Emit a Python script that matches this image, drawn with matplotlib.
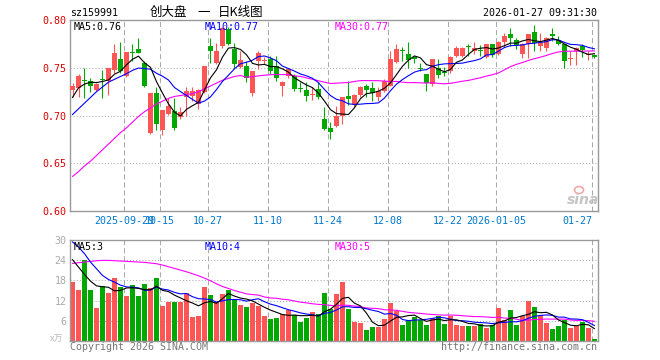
import numpy as np
import pandas as pd
import matplotlib
matplotlib.use("Agg")
import matplotlib.pyplot as plt
from matplotlib.patches import Ellipse

# ---------------- data ----------------
opens = [0.7267,0.7288,0.7365,0.7358,0.7267,0.7374,0.7358,0.7476,0.7590,0.7417,
 0.7665,0.7694,0.7556,0.6816,0.7233,0.6844,0.7017,0.7045,0.6983,0.7198,
 0.7208,0.7122,0.7243,0.7729,0.7556,0.7729,0.7913,0.7701,0.7510,0.7521,
 0.7233,0.7573,0.7570,0.7590,0.7521,0.7312,0.7417,0.7417,0.7280,0.7267,
 0.7212,0.7278,0.6965,0.6868,0.6885,0.6990,0.7208,0.7115,0.7219,0.7306,
 0.7285,0.7198,0.7260,0.7312,0.7566,0.7680,0.7649,0.7610,0.7495,0.7441,
 0.7330,0.7503,0.7455,0.7469,0.7625,0.7625,0.7722,0.7677,0.7680,0.7615,
 0.7747,0.7642,0.7774,0.7858,0.7788,0.7642,0.7753,0.7878,0.7729,0.7705,
 0.7845,0.7788,0.7747,0.7590,0.7677,0.7729,0.7634,0.7632]
highs = [0.7337,0.7440,0.7497,0.7399,0.7337,0.7476,0.7500,0.7753,0.7774,0.7670,
 0.7747,0.7816,0.7573,0.7240,0.7295,0.7063,0.7184,0.7184,0.7094,0.7295,
 0.7295,0.7275,0.7525,0.7809,0.7764,0.7927,0.7927,0.7764,0.7677,0.7573,
 0.7472,0.7677,0.7615,0.7625,0.7625,0.7358,0.7503,0.7434,0.7347,0.7347,
 0.7295,0.7347,0.7087,0.6930,0.7104,0.7191,0.7365,0.7226,0.7312,0.7330,
 0.7347,0.7295,0.7382,0.7677,0.7747,0.7719,0.7774,0.7630,0.7552,0.7441,
 0.7590,0.7590,0.7505,0.7625,0.7729,0.7719,0.7753,0.7774,0.7740,0.7753,
 0.7753,0.7781,0.7868,0.7920,0.7816,0.7764,0.7858,0.7955,0.7868,0.7823,
 0.7920,0.7833,0.7753,0.7677,0.7719,0.7747,0.7677,0.7649]
lows = [0.7191,0.7190,0.7184,0.7243,0.7260,0.7180,0.7219,0.7451,0.7451,0.7400,
 0.7573,0.7655,0.7302,0.6806,0.6844,0.6792,0.7010,0.6851,0.6965,0.7000,
 0.7156,0.7070,0.7233,0.7556,0.7545,0.7712,0.7740,0.7503,0.7497,0.7347,
 0.7208,0.7486,0.7545,0.7434,0.7358,0.7208,0.7399,0.7261,0.7243,0.7156,
 0.7167,0.7174,0.6851,0.6757,0.6878,0.6913,0.7115,0.7087,0.7191,0.7198,
 0.7156,0.7149,0.7243,0.7312,0.7556,0.7573,0.7503,0.7550,0.7469,0.7253,
 0.7312,0.7399,0.7410,0.7450,0.7615,0.7615,0.7625,0.7642,0.7625,0.7608,
 0.7615,0.7635,0.7719,0.7729,0.7694,0.7608,0.7608,0.7677,0.7677,0.7677,
 0.7781,0.7740,0.7503,0.7528,0.7531,0.7615,0.7580,0.7608]
closes = [0.7312,0.7417,0.7358,0.7312,0.7330,0.7370,0.7497,0.7660,0.7469,0.7667,
 0.7660,0.7660,0.7312,0.7233,0.6913,0.7059,0.7095,0.6872,0.7042,0.7253,
 0.7253,0.7271,0.7521,0.7677,0.7677,0.7920,0.7747,0.7545,0.7580,0.7399,
 0.7469,0.7660,0.7576,0.7469,0.7392,0.7354,0.7486,0.7278,0.7276,0.7208,
 0.7215,0.7198,0.6861,0.6826,0.7000,0.7191,0.7174,0.7215,0.7302,0.7267,
 0.7233,0.7260,0.7365,0.7590,0.7694,0.7675,0.7580,0.7590,0.7490,0.7337,
 0.7590,0.7427,0.7450,0.7615,0.7712,0.7712,0.7719,0.7712,0.7677,0.7747,
 0.7635,0.7774,0.7833,0.7816,0.7740,0.7753,0.7851,0.7764,0.7774,0.7816,
 0.7840,0.7753,0.7573,0.7608,0.7705,0.7684,0.7636,0.7615]
volumes = [17.6,15.2,24.1,15.2,9.8,16.4,14.3,18.7,16.0,13.4,
 16.6,13.4,16.9,15.8,18.7,10.4,11.6,11.6,11.6,14.4,
 7.1,7.4,16.1,13.7,11.6,14.0,15.2,12.2,10.7,10.1,
 11.3,10.4,7.4,6.5,6.8,8.0,9.2,7.8,5.6,6.8,
 8.6,8.0,14.3,9.4,14.0,17.6,9.5,5.6,5.3,3.2,
 4.1,4.2,6.5,11.3,8.9,4.7,6.2,7.1,6.2,4.7,
 6.8,7.4,5.0,7.4,4.6,4.4,4.4,4.4,5.0,3.8,
 4.7,9.8,6.2,9.2,4.7,7.4,11.9,10.1,7.7,5.3,
 3.5,4.4,6.2,3.8,4.4,5.6,3.8,0.5]

# moving-average values before a full window is visible
ma5_head = [0.719, 0.729, 0.733, 0.735]
ma10_head = [0.701, 0.707, 0.713, 0.719, 0.725, 0.730, 0.735, 0.738, 0.741]
ma30_head = [0.636, 0.641, 0.647, 0.652, 0.658, 0.664, 0.670, 0.676, 0.682, 0.687,
             0.693, 0.699, 0.704, 0.708, 0.712, 0.715, 0.718, 0.720, 0.721, 0.722,
             0.723, 0.725, 0.728, 0.731, 0.734, 0.737, 0.739, 0.741, 0.742]
vma5_head = [24.2, 22.0, 19.8, 17.8]
vma10_head = [29.5, 28.0, 26.0, 23.5, 21.5, 19.5, 18.3, 17.5, 16.6]
vma30_head = [23.1, 23.3, 23.5, 23.7, 23.9, 24.0, 24.0, 23.9, 23.8, 23.7,
              23.6, 23.5, 23.4, 23.2, 23.0, 22.6, 22.1, 21.6, 21.1, 20.6,
              20.0, 19.4, 18.7, 17.9, 17.0, 16.2, 15.6, 15.0, 14.5]

date_labels = ['2025-09-29', '10-15', '10-27', '11-10', '11-24', '12-08', '12-22', '2026-01-05', '01-27']
date_index = [9, 15, 23, 33, 43, 53, 63, 71, 87]
price_ticks = [0.60, 0.65, 0.70, 0.75, 0.80]
volume_ticks = [6, 12, 18, 24, 30]

code_text = 'sz159991'
title_parts = ['创大盘', '一', '日K线图']
time_text = '2026-01-27 09:31:30'
ma_price_labels = ['MA5:0.76', 'MA10:0.77', 'MA30:0.77']
ma_vol_labels = ['MA5:3', 'MA10:4', 'MA30:5']

# ---------------- style ----------------
RED = '#ff5555'
GREEN = '#00a800'
GRID = '#aaaaaa'
FRAME = '#999999'
MONO = 'DejaVu Sans Mono'
CJK = ['Noto Sans CJK SC', 'DejaVu Sans']
FS = 7.2
W, H = 660, 360

def fx(x): return x / W
def fy(y): return 1 - y / H

fig = plt.figure(figsize=(6.6, 3.6), dpi=100)
fig.patch.set_facecolor('white')
L, R = 70, 597.7
ax = fig.add_axes([fx(L), fy(210.7), (R - L) / W, (210.7 - 20.3) / H])
axv = fig.add_axes([fx(L), fy(340.7), (R - L) / W, (340.7 - 240.3) / H])

o = np.array(opens); h = np.array(highs); lo = np.array(lows); c = np.array(closes)
v = np.array(volumes)
x = np.arange(len(c))
up = c >= o
cols = np.where(up, RED, GREEN)

def ma(values, n, head):
    s = pd.Series(values).rolling(n).mean().to_numpy()
    s[:len(head)] = head
    return s

XMIN, XMAX = -0.417, 87.55
for a in (ax, axv):
    a.set_xlim(XMIN, XMAX)
    for s in a.spines.values():
        s.set_color(FRAME)
        s.set_linewidth(1.0)
    a.set_xticks([])
    a.tick_params(axis='y', length=0, pad=2.5, labelsize=FS)
    for di in date_index:
        a.axvline(di - 0.42, color=GRID, lw=0.75, ls=(0, (4.8, 2.9)), zorder=0)

# price panel
ax.set_ylim(0.60, 0.80)
ax.set_yticks(price_ticks)
ax.set_yticklabels([f'{t:.2f}' for t in price_ticks], family=MONO, color='#dd0000')
for t in price_ticks[1:-1]:
    ax.axhline(t, color=GRID, lw=0.75, ls=(0, (1, 2)), zorder=0)
ax.vlines(x, lo, h, colors=cols, lw=0.8, zorder=2)
body_b = np.minimum(o, c)
body_h = np.maximum(np.abs(c - o), 0.0011)
ax.bar(x, body_h, bottom=body_b, width=0.76, color=cols, linewidth=0, zorder=3)
ax.plot(x, ma(c, 30, ma30_head), color='#ff00ff', lw=0.8, zorder=4)
ax.plot(x, ma(c, 10, ma10_head), color='#0000ff', lw=0.8, zorder=4)
ax.plot(x, ma(c, 5, ma5_head), color='#000000', lw=0.8, zorder=5)

# volume panel
axv.set_ylim(0, 30)
axv.set_yticks(volume_ticks)
axv.set_yticklabels([str(t) for t in volume_ticks], family=MONO, color='#aaaaaa')
for t in volume_ticks[:-1]:
    axv.axhline(t, color=GRID, lw=0.75, ls=(0, (1, 2)), zorder=0)
axv.bar(x, v, width=0.78, color=cols, linewidth=0, zorder=2)
axv.plot(x, ma(v, 30, vma30_head), color='#ff00ff', lw=0.8, zorder=4)
axv.plot(x, ma(v, 10, vma10_head), color='#0000ff', lw=0.8, zorder=4)
axv.plot(x, ma(v, 5, vma5_head), color='#000000', lw=0.8, zorder=5)

# date labels
for lab, di in zip(date_labels, date_index):
    xp = L + (di - 0.42 - XMIN) * (R - L) / (XMAX - XMIN)
    ha = 'center'
    if di == date_index[-1]:
        ha = 'right'; xp += 0.5
    fig.text(fx(xp), fy(221), lab, ha=ha, va='center', family=MONO, fontsize=FS, color='#0077cc')

# header texts
fig.text(fx(70), fy(12.5), code_text, ha='left', va='center', family=MONO, fontsize=FS, color='black')
for part, xx in zip(title_parts, [150, 197, 218]):
    fig.text(fx(xx), fy(12.5), part, ha='left', va='center', family=CJK, fontsize=9.0, color='black')
fig.text(fx(597), fy(12.5), time_text, ha='right', va='center', family=MONO, fontsize=FS, color='black')

ma_cols = ['#000000', '#0000ff', '#ff00ff']
ma_x = [74, 204.5, 334.5]
for lab, col, xx in zip(ma_price_labels, ma_cols, ma_x):
    fig.text(fx(xx), fy(26.5), lab, ha='left', va='center', family=MONO, fontsize=FS, color=col)
for lab, col, xx in zip(ma_vol_labels, ma_cols, ma_x):
    fig.text(fx(xx), fy(246.5), lab, ha='left', va='center', family=MONO, fontsize=FS, color=col)

fig.text(fx(50), fy(339), 'x万', ha='left', va='center', family=CJK, fontsize=6.5, color='#bbbbbb')
fig.text(fx(70), fy(346.5), 'Copyright 2026 SINA.COM', ha='left', va='center', family=MONO, fontsize=FS, color='#777777')
fig.text(fx(597), fy(346.5), 'http://finance.sina.com.cn', ha='right', va='center', family=MONO, fontsize=FS, color='#777777')

# faint sina watermark
fig.text(fx(583), fy(200), 'sina', ha='center', va='center', fontsize=10, style='italic',
         weight='bold', color='#c4c4c4', family='DejaVu Sans')
fig.add_artist(Ellipse((fx(579), fy(190)), 9 / W, 7 / H, transform=fig.transFigure,
                       fill=False, edgecolor='#f3a7a7', lw=1.2))

fig.savefig('out.png', dpi=100, facecolor='white')
